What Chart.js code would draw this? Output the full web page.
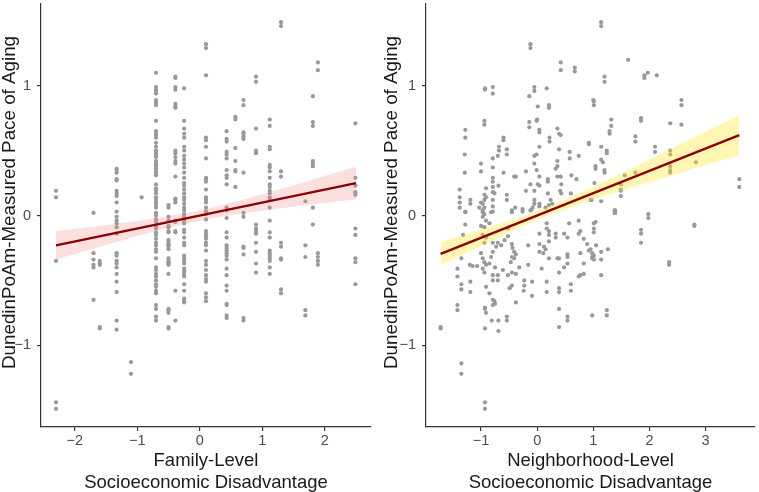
<!DOCTYPE html>
<html>
<head>
<meta charset="utf-8">
<script src="https://cdn.jsdelivr.net/npm/chart.js@4.4.1/dist/chart.umd.min.js"></script>
<style>
  html, body { margin: 0; padding: 0; background: #fff; }
  #wrap { position: relative; width: 759px; height: 492px; }
  canvas { position: absolute; top: 0; }
</style>
</head>
<body>
<div id="wrap">
  <canvas id="famChart" width="380" height="492" style="left:0"></canvas>
  <canvas id="nbhChart" width="379" height="492" style="left:380px"></canvas>
</div>
<script>
// --- Family-level panel: points grouped by the (discrete) x value ---
const famCols = [-2.3, -1.7, -1.6, -1.33, -1.1, -0.93, -0.7, -0.5, -0.39, -0.25, 0.1, 0.43, 0.57, 0.7, 0.9, 1.12, 1.3, 1.69, 1.81, 1.89, 2.49];
const famVals = [
  [0.19, 0.14, -0.35, -1.44, -1.49],
  [0.02, -0.29, -0.34, -0.38, -0.40, -0.65],
  [-0.35, -0.37, -0.38, -0.86, -0.87],
  [0.36, 0.35, 0.33, 0.28, 0.27, 0.19, 0.17, 0.15, 0.10, 0.03, -0.01, -0.04, -0.06, -0.09, -0.14, -0.29, -0.31, -0.35, -0.37, -0.40, -0.45, -0.51, -0.59, -0.81, -0.88],
  [-1.13, -1.22],
  [0.14],
  [1.10, 0.99, 0.97, 0.96, 0.94, 0.89, 0.87, 0.85, 0.73, 0.65, 0.63, 0.62, 0.60, 0.56, 0.53, 0.50, 0.48, 0.46, 0.45, 0.42, 0.40, 0.39, 0.38, 0.36, 0.34, 0.32, 0.31, 0.24, 0.21, 0.19, 0.17, 0.14, 0.12, 0.10, 0.08, 0.06, 0.02, 0.0, -0.03, -0.05, -0.08, -0.10, -0.13, -0.15, -0.18, -0.21, -0.23, -0.26, -0.28, -0.33, -0.40, -0.42, -0.45, -0.47, -0.50, -0.53, -0.55, -0.58, -0.60, -0.69, -0.72, -0.78, -0.81],
  [0.08, 0.06, -0.01, -0.04, -0.08, -0.09, -0.12, -0.13, -0.19, -0.21, -0.22, -0.23, -0.24, -0.26, -0.33, -0.35, -0.36, -0.37, -0.38, -0.45, -0.72, -0.73, -0.75, -0.86, -0.87],
  [1.07, 1.06, 0.99, 0.97, 0.86, 0.84, 0.83, 0.50, 0.48, 0.45, 0.42, 0.40, 0.30, 0.13, 0.12, 0.10, -0.04, -0.05, -0.12, -0.13, -0.58, -0.81],
  [0.98, 0.73, 0.67, 0.63, 0.60, 0.53, 0.50, 0.46, 0.43, 0.40, 0.37, 0.33, 0.29, 0.25, 0.23, 0.20, 0.17, 0.14, 0.12, 0.09, 0.06, 0.04, 0.01, -0.01, -0.04, -0.06, -0.11, -0.13, -0.17, -0.21, -0.23, -0.31, -0.33, -0.35, -0.37, -0.41, -0.43, -0.45, -0.47, -0.53, -0.58, -0.64, -0.66, -0.67],
  [1.32, 1.29, 1.08, 0.60, 0.58, 0.53, 0.44, 0.29, 0.28, 0.26, 0.20, 0.14, 0.12, 0.10, 0.06, 0.03, 0.01, -0.03, -0.12, -0.14, -0.16, -0.18, -0.21, -0.23, -0.27, -0.35, -0.38, -0.42, -0.46, -0.49, -0.51, -0.60, -0.63, -0.66],
  [0.65, 0.59, 0.57, 0.49, 0.47, 0.44, 0.35, 0.31, 0.29, 0.24, 0.06, 0.04, -0.02, -0.13, -0.17, -0.23, -0.25, -0.27, -0.29, -0.31, -0.34, -0.41, -0.46, -0.54, -0.58, -0.68, -0.69, -0.77, -0.79],
  [0.76, 0.74, 0.52, 0.42, 0.35, 0.34, 0.22],
  [0.89, 0.85, 0.64, 0.63, 0.61, 0.59, 0.33, 0.02, -0.01, -0.24, -0.25, -0.30, -0.79, -0.81],
  [1.07, 1.03, 0.67, 0.50, 0.48, -0.07, -0.10, -0.12, -0.14, -0.21, -0.28, -0.37, -0.44],
  [0.74, 0.69, 0.53, 0.51, 0.39, 0.37, 0.34, 0.29, 0.24, 0.22, 0.19, 0.17, 0.14, 0.12, 0.06, -0.04, -0.13, -0.17, -0.27, -0.29, -0.31, -0.33, -0.35, -0.40, -0.45],
  [1.49, 1.46, 0.34, 0.30, -0.21, -0.24, -0.33, -0.34, -0.57, -0.60],
  [0.11, -0.23, -0.32, -0.73, -0.77],
  [0.92, 0.72, 0.69, 0.42, 0.40, 0.38, 0.06, -0.07],
  [1.18, 1.12, -0.29, -0.32, -0.35, -0.38],
  [0.71, 0.29, 0.23, 0.18, 0.16, -0.10, -0.15, -0.33, -0.36, -0.53]
];

// fitted line and 95% band (family)
const famFitX = [-2.3, 2.5];
const famFitY = [-0.23, 0.25];
const famBandX = [-2.3, -1.5, -0.7, 0, 0.8, 1.6, 2.5];
const famBandHi = [-0.12, -0.073, -0.021, 0.04, 0.137, 0.247, 0.375];
const famBandLo = [-0.34, -0.227, -0.119, -0.04, 0.023, 0.073, 0.125];

// --- Neighborhood-level panel: [x, y] pairs ---
const nbhPairs = [
  [-0.12,1.32],[-0.12,1.29],[0.42,1.18],[0.42,1.12],[0.67,1.14],[0.67,1.11],[-0.93,0.98],[-0.93,0.97],[-0.79,0.99],[-0.79,0.94],
  [-0.05,0.99],[-0.05,0.96],[0.17,0.98],[-0.14,0.92],[1.00,0.89],[0.21,0.85],[0.21,0.83],[0.01,0.84],[0.0,0.74],[-0.01,0.73],
  [-0.94,0.73],[-0.94,0.70],[-0.14,0.72],[-0.14,0.68],[0.04,0.66],[0.04,0.64],[-1.28,0.66],[-1.28,0.60],[0.36,0.67],[0.39,0.63],
  [0.42,0.62],[-0.60,0.60],[-0.60,0.58],[0.22,0.60],[0.22,0.57],[0.92,0.56],[0.92,0.55],[-0.68,0.53],[-0.68,0.50],[-0.54,0.51],
  [-0.54,0.47],[0.04,0.53],[0.39,0.51],[-1.29,0.47],[0.58,0.49],[0.58,0.44],[0.74,0.46],[-0.70,0.46],[-0.79,0.44],[-0.05,0.46],
  [-0.05,0.40],[-0.01,0.47],[0.36,0.42],[0.36,0.38],[0.33,0.36],[-1.00,0.40],[-0.79,0.37],[-0.01,0.35],[-0.20,0.34],[-1.00,0.34],
  [-1.29,0.33],[-0.60,0.33],[0.36,0.30],[0.42,0.30],[-0.41,0.30],[-0.38,0.30],[0.04,0.30],[-0.79,0.29],[-0.79,0.26],[0.61,0.31],
  [0.19,0.28],[0.19,0.26],[0.70,0.28],[-0.12,0.24],[0.01,0.24],[0.04,0.23],[0.43,0.24],[-0.69,0.23],[-0.79,0.22],[-0.91,0.21],
  [-1.38,0.20],[-0.20,0.19],[-0.05,0.19],[0.41,0.19],[0.43,0.17],[0.19,0.17],[-0.79,0.18],[-0.76,0.17],[-0.94,0.16],[-0.91,0.14],
  [-0.54,0.16],[-0.54,0.12],[0.60,0.17],[-1.38,0.14],[-1.38,0.10],[-1.38,0.06],[-1.19,0.12],[-1.19,0.09],[-0.94,0.12],[-0.97,0.09],
  [-0.94,0.06],[-0.97,0.04],[-1.00,0.10],[-1.03,0.06],[-0.79,0.12],[-0.79,0.07],[-0.79,0.03],[-0.05,0.12],[-0.05,0.09],[-0.08,0.06],
  [-0.11,0.04],[-0.45,0.04],[-0.39,0.06],[-0.26,0.05],[-0.26,0.03],[-1.28,0.03],[0.04,0.09],[0.04,0.07],[0.21,0.08],[0.15,0.06],
  [0.24,0.12],[0.27,0.09],[0.95,0.12],
  [1.14,1.49],[1.14,1.46],[1.62,1.20],[1.91,1.08],[1.91,1.06],[1.97,1.10],[2.13,1.08],[1.20,1.07],[1.20,1.03],[1.01,0.88],
  [1.01,0.85],[2.57,0.89],[2.57,0.85],[1.32,0.74],[1.32,0.69],[1.85,0.75],[1.85,0.73],[2.37,0.71],[2.57,0.70],[1.29,0.65],
  [1.29,0.63],[1.75,0.61],[1.75,0.57],[1.14,0.53],[1.24,0.50],[1.24,0.48],[2.10,0.53],[2.10,0.49],[2.37,0.50],[2.37,0.47],
  [1.14,0.43],[1.17,0.41],[2.83,0.41],[1.04,0.38],[1.04,0.36],[1.20,0.35],[1.20,0.33],[2.37,0.38],[2.37,0.35],[2.37,0.33],
  [1.56,0.31],[1.75,0.33],[1.02,0.25],[1.49,0.24],[1.49,0.20],[1.49,0.19],[3.60,0.28],[3.60,0.22],[0.97,0.12],[1.14,0.11],
  [1.49,0.15],[1.38,0.04],[1.38,0.02],[1.98,0.01],
  [-1.28,0.025],[-0.97,0.025],[-0.94,0.01],[-0.82,0.025],[-0.45,0.025],[-0.12,0.04],[-1.28,-0.07],[-0.97,-0.01],[-0.91,-0.04],[-1.00,-0.08],
  [-0.94,-0.09],[-0.85,-0.06],[-1.32,-0.15],[-0.52,-0.10],[-0.97,-0.15],[-0.91,-0.17],[-0.94,-0.21],[-0.79,-0.21],[-0.52,-0.16],[-0.58,-0.19],
  [-0.70,-0.21],[-0.64,-0.23],[0.04,-0.14],[0.04,-0.22],[0.04,-0.28],[0.21,-0.12],[0.21,-0.15],[0.21,-0.20],[0.17,-0.06],[0.17,-0.10],
  [0.33,-0.14],[0.33,-0.17],[0.48,-0.14],[0.54,-0.17],[0.57,-0.06],[0.74,-0.04],[0.77,-0.12],[0.74,-0.14],[0.89,-0.22],[0.95,-0.26],
  [0.98,-0.32],[0.83,-0.18],[-0.16,-0.23],[0.12,-0.24],[0.15,-0.26],[0.21,-0.33],[0.11,-0.29],[0.36,-0.33],[0.39,-0.33],[0.54,-0.30],
  [0.54,-0.32],[0.54,-0.37],[0.77,-0.29],[0.83,-0.37],[-0.45,-0.22],[-0.44,-0.25],[-0.41,-0.28],[-0.38,-0.30],[-0.45,-0.32],[-0.41,-0.33],
  [-0.47,-0.36],[-0.73,-0.24],[-0.79,-0.28],[-0.82,-0.32],[-1.00,-0.29],[-0.97,-0.33],[-0.94,-0.36],[-0.91,-0.38],[-0.97,-0.41],[-0.85,-0.37],
  [-0.94,-0.44],[-1.20,-0.38],[-1.15,-0.39],[-1.07,-0.39],[-1.35,-0.33],[-1.42,-0.41],[-1.42,-0.47],[-0.75,-0.40],[-0.79,-0.46],[-0.79,-0.50],
  [-0.70,-0.46],[-0.70,-0.50],[-0.61,-0.42],[-0.52,-0.46],[-0.45,-0.44],[-0.38,-0.45],[-0.32,-0.40],[-0.16,-0.38],[-0.49,-0.56],[-0.45,-0.54],
  [-0.23,-0.50],[-0.23,-0.54],[-0.09,-0.51],[-0.24,-0.58],[0.08,-0.41],[0.39,-0.44],[0.48,-0.40],[0.77,-0.46],[0.74,-0.47],[0.83,-0.45],
  [-1.35,-0.53],[-1.35,-0.57],[-1.19,-0.51],[-1.19,-0.59],[-0.91,-0.55],[-0.85,-0.60],[-0.93,-0.71],[-0.93,-0.72],[-0.91,-0.75],[-0.79,-0.65],
  [-0.76,-0.66],[-0.75,-0.68],[-0.79,-0.69],[-0.38,-0.67],[-0.09,-0.62],[0.17,-0.51],[0.17,-0.59],[0.39,-0.56],[0.39,-0.59],[0.60,-0.53],
  [0.60,-0.58],[-1.42,-0.69],[-1.42,-0.73],[0.39,-0.72],[0.39,-0.86],[0.54,-0.78],[0.54,-0.81],[-0.81,-0.81],[-0.69,-0.81],[-0.54,-0.78],
  [-0.54,-0.81],[-0.93,-0.87],[-0.69,-0.89],[-1.72,-0.86],[-1.72,-0.87],[-1.35,-1.14],[-1.35,-1.22],[-0.93,-1.44],[-0.93,-1.49],[0.98,-0.77],
  [1.39,0.04],[1.39,0.02],[1.98,-0.02],[1.04,-0.05],[1.01,-0.06],[1.01,-0.10],[1.01,-0.13],[2.80,-0.07],[2.80,-0.08],[1.85,-0.11],
  [1.85,-0.14],[1.85,-0.21],[1.05,-0.23],[0.92,-0.27],[0.98,-0.29],[1.01,-0.31],[0.98,-0.33],[1.01,-0.34],[1.14,-0.28],[1.14,-0.34],
  [1.26,-0.26],[1.14,-0.46],[2.35,-0.36],[2.35,-0.38],[1.24,-0.73],[1.24,-0.77]
];

// fitted line and 95% band (neighborhood)
const nbhFitX = [-1.72, 3.6];
const nbhFitY = [-0.296, 0.619];
const nbhBandX = [-1.72, -1, 0, 1, 2, 3, 3.6];
const nbhBandHi = [-0.206, -0.110, 0.035, 0.222, 0.432, 0.645, 0.774];
const nbhBandLo = [-0.386, -0.234, -0.035, 0.122, 0.256, 0.387, 0.464];

// axes
const yTicks = [-1, 0, 1];
const famXTicks = [-2, -1, 0, 1, 2];
const nbhXTicks = [-1, 0, 1, 2, 3];
// leading spaces nudge the rotated title up a little, as in the original
const yTitle = '     DunedinPoAm-Measured Pace of Aging';
const famXTitle = ['Family-Level', 'Socioeconomic Disadvantage'];
const nbhXTitle = ['Neighborhood-Level', 'Socioeconomic Disadvantage'];

const FONT = "'Liberation Sans', Arial, sans-serif";
const fmt = v => (v < 0 ? '\u2212' + Math.abs(v) : String(v));
const zip = (xs, ys) => xs.map((x, i) => ({ x: x, y: ys[i] }));

// fixed axis boxes, no automatic label overflow padding
function fixBox(s, w, h) {
  if (w) s.width = w;
  if (h) s.height = h;
  s.paddingTop = 0; s.paddingBottom = 0; s.paddingLeft = 0; s.paddingRight = 0;
}

function drawPanel(id, o) {
  const axisLine = { display: true, color: '#333', width: 1.2 };
  const tickGrid = { display: true, drawOnChartArea: false, drawTicks: true, tickLength: 4, color: '#333', lineWidth: 1.2 };
  return new Chart(document.getElementById(id), {
    type: 'scatter',
    data: {
      datasets: [
        { type: 'line', data: zip(o.fitX, o.fitY), borderColor: '#8b0000', borderWidth: 2.4,
          pointRadius: 0, fill: false, order: 0 },
        { type: 'line', data: zip(o.bandX, o.bandHi), borderColor: 'rgba(0,0,0,0)', borderWidth: 0,
          pointRadius: 0, fill: '+1', backgroundColor: o.band, cubicInterpolationMode: 'monotone', order: 1 },
        { type: 'line', data: zip(o.bandX, o.bandLo), borderColor: 'rgba(0,0,0,0)', borderWidth: 0,
          pointRadius: 0, fill: false, cubicInterpolationMode: 'monotone', order: 1 },
        { data: o.points, pointStyle: 'circle', pointRadius: 2.1, backgroundColor: '#999999',
          borderWidth: 0, order: 2 }
      ]
    },
    options: {
      responsive: false,
      animation: false,
      layout: { padding: { top: 3, right: o.padRight, left: 0, bottom: 0 } },
      plugins: { legend: { display: false }, tooltip: { enabled: false } },
      scales: {
        x: {
          type: 'linear', min: o.xMin, max: o.xMax,
          afterBuildTicks: s => { s.ticks = o.xTicks.map(v => ({ value: v })); },
          afterFit: s => fixBox(s, 0, 65),
          border: axisLine, grid: tickGrid,
          ticks: { color: '#4d4d4d', font: { family: FONT, size: 14.5 }, padding: 1,
                   maxRotation: 0, autoSkip: false, callback: fmt },
          title: { display: true, text: o.xTitle, color: '#1a1a1a', padding: { top: 0, bottom: -2 },
                   font: { family: FONT, size: 18.5, lineHeight: 1.19 } }
        },
        y: {
          type: 'linear', min: -1.63, max: 1.63,
          afterBuildTicks: s => { s.ticks = yTicks.map(v => ({ value: v })); },
          afterFit: s => fixBox(s, o.yWidth, 0),
          border: axisLine, grid: tickGrid,
          ticks: { color: '#4d4d4d', font: { family: FONT, size: 14.5 }, padding: 6, callback: fmt },
          title: { display: true, text: yTitle, color: '#1a1a1a', padding: { top: o.yTitlePad, bottom: 0 },
                   font: { family: FONT, size: 18.8, lineHeight: 1 } }
        }
      }
    }
  });
}

const famPoints = [];
famCols.forEach((x, i) => famVals[i].forEach(y => famPoints.push({ x: x, y: y })));
const nbhPoints = nbhPairs.map(p => ({ x: p[0], y: p[1] }));

drawPanel('famChart', {
  points: famPoints, fitX: famFitX, fitY: famFitY,
  bandX: famBandX, bandHi: famBandHi, bandLo: famBandLo, band: 'rgba(245,140,140,0.27)',
  xMin: -2.54, xMax: 2.74, xTicks: famXTicks, xTitle: famXTitle,
  yWidth: 41, yTitlePad: 0, padRight: 9
});
drawPanel('nbhChart', {
  points: nbhPoints, fitX: nbhFitX, fitY: nbhFitY,
  bandX: nbhBandX, bandHi: nbhBandHi, bandLo: nbhBandLo, band: 'rgba(255,230,40,0.35)',
  xMin: -1.98, xMax: 3.88, xTicks: nbhXTicks, xTitle: nbhXTitle,
  yWidth: 46, yTitlePad: 2, padRight: 2
});
</script>
</body>
</html>
